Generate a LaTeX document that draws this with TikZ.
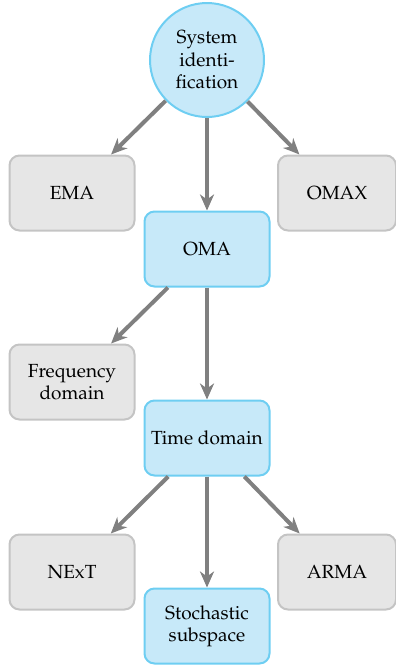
\documentclass[tikz,border=0pt]{standalone}
\usepackage[T1]{fontenc}
\usepackage{mathpazo}
\usetikzlibrary{arrows.meta}

\definecolor{bluefill}{HTML}{C7E9F9}
\definecolor{blueline}{HTML}{6ECEF2}
\definecolor{grayfill}{HTML}{E6E6E6}
\definecolor{grayline}{HTML}{C4C4C4}
\definecolor{arrowgray}{HTML}{808080}

\tikzset{
  base/.style={font=\fontsize{9.5}{11.2}\selectfont, align=center, line width=1pt, inner sep=0pt},
  bluebox/.style={base, draw=blueline, fill=bluefill, rounded corners=5pt,
    minimum width=62.5pt, minimum height=37.5pt},
  graybox/.style={base, draw=grayline, fill=grayfill, rounded corners=5pt,
    minimum width=62.5pt, minimum height=37.5pt},
  rootnode/.style={base, circle, draw=blueline, fill=bluefill, minimum size=57pt},
  link/.style={draw=arrowgray, line width=2pt,
    -{Stealth[length=8pt, width=7pt, inset=2.5pt]}}
}

\begin{document}
\begin{tikzpicture}[x=0.5pt, y=-0.5pt]
  \useasboundingbox (0,0) rectangle (396,665);
  \clip (0,0) rectangle (396,665);

  % root of the tree
  \node[rootnode] (sysid) at (207,60) {System\\identi-\\fication};

  % first level
  \node[graybox] (ema)  at (72,193)  {EMA};
  \node[bluebox] (oma)  at (207,249) {OMA};
  \node[graybox, minimum width=59pt] (omax) at (337,193) {OMAX};

  % second level
  \node[graybox] (freq) at (72,382)  {Frequency\\domain};
  \node[bluebox] (time) at (207,438) {Time domain};

  % third level
  \node[graybox] (next) at (72,572)  {NExT};
  \node[bluebox] (ssi)  at (207,626) {Stochastic\\subspace};
  \node[graybox, minimum width=59pt] (arma) at (337,572) {ARMA};

  % connectors
  \draw[link] (sysid) -- (ema);
  \draw[link] (sysid) -- (oma);
  \draw[link] (sysid) -- (omax);
  \draw[link] (oma)   -- (freq);
  \draw[link] (oma)   -- (time);
  \draw[link] (time)  -- (next);
  \draw[link] (time)  -- (ssi);
  \draw[link] (time)  -- (arma);
\end{tikzpicture}
\end{document}
